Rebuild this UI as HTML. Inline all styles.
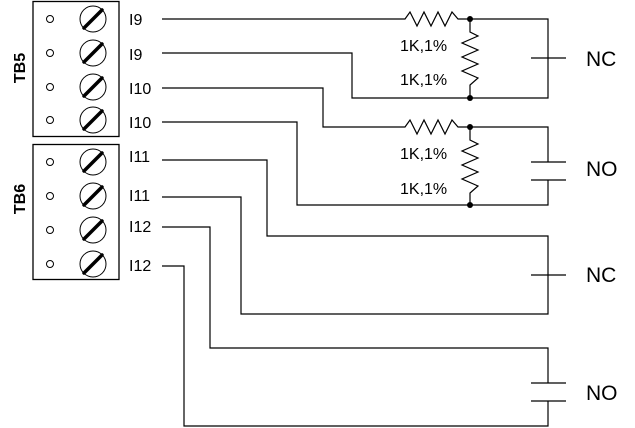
<!DOCTYPE html>
<html><head><style>
html,body{margin:0;padding:0;background:#fff;}
svg{display:block;}
text{font-family:"Liberation Sans",sans-serif;fill:#000;}
</style></head><body>
<svg width="635" height="428" viewBox="0 0 635 428" xmlns="http://www.w3.org/2000/svg">
<g fill="none" stroke="#000" stroke-width="1.3">
<rect x="33" y="1.5" width="86" height="135"/>
<rect x="33" y="144.5" width="86" height="135"/>
</g>
<g fill="none" stroke="#000" stroke-width="1">
<circle cx="50" cy="19" r="3.5"/><circle cx="50" cy="53" r="3.5"/><circle cx="50" cy="87" r="3.5"/><circle cx="50" cy="120" r="3.5"/>
<circle cx="50" cy="162" r="3.5"/><circle cx="50" cy="196" r="3.5"/><circle cx="50" cy="230" r="3.5"/><circle cx="50" cy="264" r="3.5"/>
</g>
<g fill="none" stroke="#000" stroke-width="1">
<circle cx="93" cy="19" r="13"/><circle cx="93" cy="53" r="13"/><circle cx="93" cy="87" r="13"/><circle cx="93" cy="120" r="13"/>
<circle cx="93" cy="162" r="13"/><circle cx="93" cy="196" r="13"/><circle cx="93" cy="230" r="13"/><circle cx="93" cy="264" r="13"/>
</g>
<g stroke="#000" stroke-width="3.5" stroke-linecap="round">
<line x1="84" y1="28" x2="102" y2="10"/><line x1="84" y1="62" x2="102" y2="44"/><line x1="84" y1="96" x2="102" y2="78"/><line x1="84" y1="129" x2="102" y2="111"/>
<line x1="84" y1="171" x2="102" y2="153"/><line x1="84" y1="205" x2="102" y2="187"/><line x1="84" y1="239" x2="102" y2="221"/><line x1="84" y1="273" x2="102" y2="255"/>
</g>
<text transform="translate(25,68) rotate(-90)" font-size="16" font-weight="bold" text-anchor="middle">TB5</text>
<text transform="translate(25,199) rotate(-90)" font-size="16" font-weight="bold" text-anchor="middle">TB6</text>
<g font-size="16">
<text x="129" y="25">I9</text><text x="129" y="60">I9</text><text x="129" y="94">I10</text><text x="129" y="128">I10</text>
<text x="129" y="162">I11</text><text x="129" y="201">I11</text><text x="129" y="232">I12</text><text x="129" y="271">I12</text>
<text x="400" y="51">1K,1%</text><text x="400" y="85">1K,1%</text>
<text x="400" y="159">1K,1%</text><text x="400" y="194">1K,1%</text>
</g>
<g font-size="21">
<text x="586" y="66">NC</text><text x="586" y="176">NO</text>
<text x="586" y="282">NC</text><text x="586" y="400">NO</text>
</g>
<g fill="none" stroke="#000" stroke-width="1.2">
<polyline points="162,19 405,19 410,12 417,26 424,12 431,26 438,12 445,26 452,12 458,19 548,19 548,98 352,98 352,53 162,53"/>
<polyline points="470,19 470,32 478,36 462,43 478,50 462,57 478,64 462,71 478,78 470,85 470,98"/>
<line x1="531" y1="58" x2="566" y2="58"/>
<polyline points="162,88 323,88 323,127 405,127 410,120 417,134 424,120 431,134 438,120 445,134 452,120 458,127 548,127 548,162"/>
<polyline points="548,180 548,205 297,205 297,122 162,122"/>
<polyline points="470,127 470,140 478,144 462,151 478,158 462,165 478,172 462,179 478,186 470,193 470,205"/>
<line x1="531" y1="162" x2="566" y2="162"/><line x1="531" y1="180" x2="566" y2="180"/>
<polyline points="162,160 267,160 267,236 548,236 548,314 241,314 241,197 162,197"/>
<line x1="531" y1="275" x2="566" y2="275"/>
<polyline points="162,227 210,227 210,348 548,348 548,383"/>
<polyline points="548,401 548,426 184,426 184,266 162,266"/>
<line x1="531" y1="383" x2="566" y2="383"/><line x1="531" y1="401" x2="566" y2="401"/>
</g>
<g fill="#000">
<circle cx="470" cy="19" r="3"/><circle cx="470" cy="98" r="3"/>
<circle cx="470" cy="127" r="3"/><circle cx="470" cy="205" r="3"/>
</g>
</svg>
</body></html>
